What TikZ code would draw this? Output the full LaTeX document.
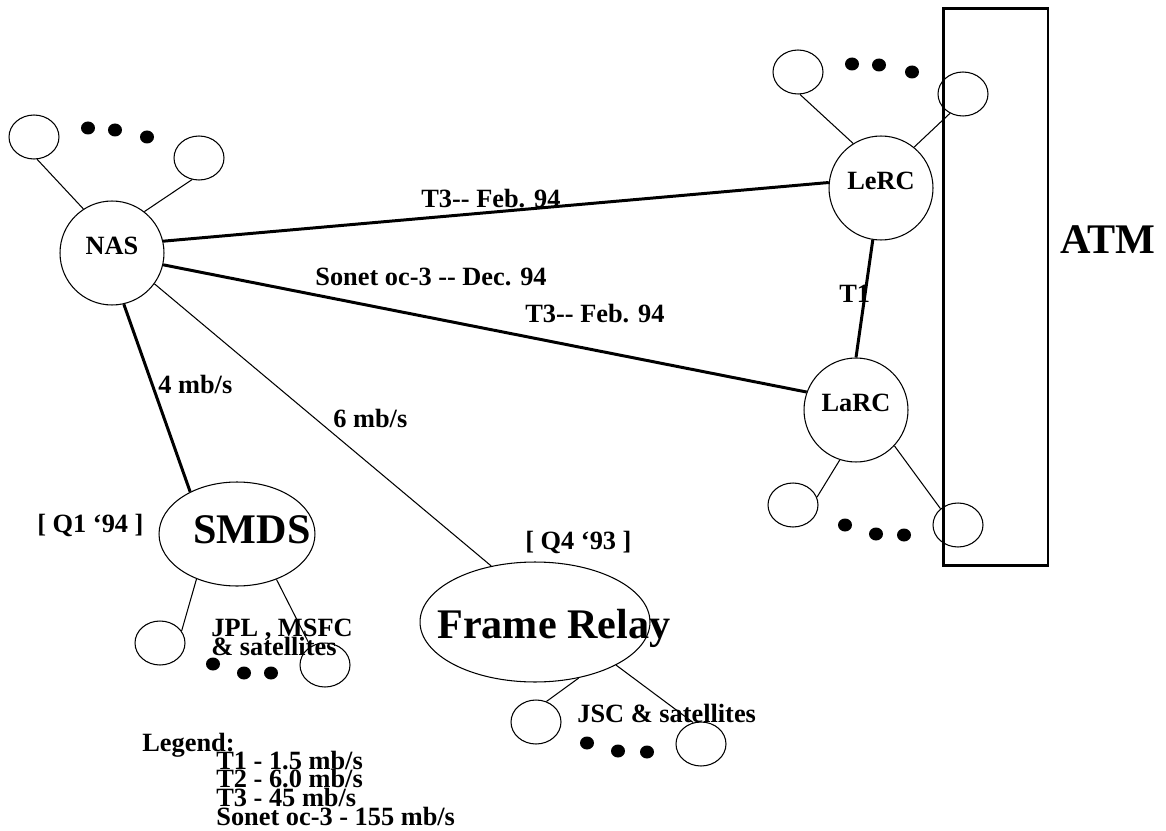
\documentclass[tikz,border=0pt]{standalone}
\usepackage{fontspec}
\setmainfont{Liberation Serif}[Ligatures=TeXOff]
\usetikzlibrary{shapes.geometric}
\newcommand\tightlines{\lineskiplimit=-20pt\relax}

\begin{document}
\begin{tikzpicture}[
  % one unit is one pixel of the slide, y grows downwards
  x=0.02cm, y=-0.02cm,
  site/.style={draw, circle, minimum size=2.08cm, inner sep=0pt, line width=0.6pt,
    font=\fontsize{15}{15}\selectfont\bfseries, text depth=8pt},
  host/.style={draw, ellipse, minimum width=1cm, minimum height=0.88cm,
    inner sep=0pt, line width=0.6pt},
  cloud/.style={draw, ellipse, inner sep=0pt, line width=0.6pt},
  % multi-line labels sit on the baseline of their last line
  lbl/.style={font=\fontsize{15}{10.6}\selectfont\bfseries\tightlines,
    inner sep=0pt, anchor=base west, align=left},
  biglbl/.style={font=\fontsize{24}{24}\selectfont\bfseries, inner sep=0pt, anchor=base west},
  trunk/.style={line width=1.7pt},
  tail/.style={line width=0.6pt}
]
\useasboundingbox (0,0) rectangle (1166,831);

% centres
\node[site] (nas) at (112,253) {NAS};
\node[site] (lerc) at (881,188) {LeRC};
\node[site] (larc) at (856,410) {LaRC};
\node[cloud, minimum width=3.12cm, minimum height=2.08cm] (smds) at (237,534) {};
\node[cloud, minimum width=4.6cm, minimum height=2.4cm] (fr) at (535,622) {};
\node[draw, line width=1.7pt, minimum width=2.1cm, minimum height=11.16cm,
  inner sep=0pt] (atmbox) at (995.5,287) {};

% local hosts
\node[host] (nas1) at (34,137) {};
\node[host] (nas2) at (199,158) {};
\node[host] (lerc1) at (798,72) {};
\node[host] (lerc2) at (963,94) {};
\node[host] (larc1) at (793,505) {};
\node[host] (larc2) at (958,525) {};
\node[host] (smds1) at (160,643) {};
\node[host] (smds2) at (325,665) {};
\node[host] (fr1) at (536,722) {};
\node[host] (fr2) at (701,744) {};

\foreach \p in {(88,128),(115,130),(147,137),(852,64),(879,65),(912,72),
    (845,525),(876,534),(904,535),(213,664),(244,673),(271,673),
    (587,743),(618,751),(647,752)}
  \fill \p ellipse [x radius=0.14cm, y radius=0.13cm];

% links
\draw[trunk] (nas.13) -- (lerc.174);
\draw[trunk] (nas.-13) -- (larc.160);
\draw[trunk] (nas.-77) -- (smds.138);
\draw[tail] (nas.-36) -- (fr.128);
\draw[trunk] (lerc.261) -- (larc.90);

\draw[tail] (nas.123) -- (nas1.-82);
\draw[tail] (nas.52) -- (nas2.252);
\draw[tail] (lerc.122) -- (lerc1.-85);
\draw[tail] (lerc.51) -- (lerc2.236);
\draw[tail] (larc.252) -- (larc1.18);
\draw[tail] (larc.-43) -- (larc2.137);
\draw[tail] (smds.228) -- (smds1.29);
\draw[tail] (smds.-49) -- (smds2.128);
\draw[tail] (fr.-52) -- (fr1.63);
\draw[tail] (fr.-28) -- (fr2.110);

% labels
\node[lbl] (t3a) at (421,208) {T3-- Feb. 94};
\node[lbl] (sonetlbl) at (315,285) {Sonet oc-3 -- Dec. 94};
\node[lbl] (t3b) at (525,322) {T3-- Feb. 94};
\node[lbl] (t1lbl) at (839,302) {T1};
\node[lbl] (smdsrate) at (158,393) {4 mb/s};
\node[lbl] (frrate) at (333,427) {6 mb/s};
\node[lbl] (smdsdate) at (37,532) {[ Q1 ‘94 ]};
\node[lbl] (frdate) at (525,549) {[ Q4 ‘93 ]};
\node[biglbl] (smdstxt) at (193,543) {SMDS};
\node[biglbl] (frtxt) at (437,638) {Frame Relay};
\node[biglbl] (atm) at (1060,254) {ATM};
\node[lbl] (smdssites) at (211,655) {JPL , MSFC\\\& satellites};
\node[lbl] (frsites) at (577,722) {JSC \& satellites};
\node[lbl] (legend) at (142,751) {Legend:};
\node[lbl] (legendrates) at (216,825)
  {T1 - 1.5 mb/s\\T2 - 6.0 mb/s\\T3 - 45 mb/s\\Sonet oc-3 - 155 mb/s};
\end{tikzpicture}
\end{document}
